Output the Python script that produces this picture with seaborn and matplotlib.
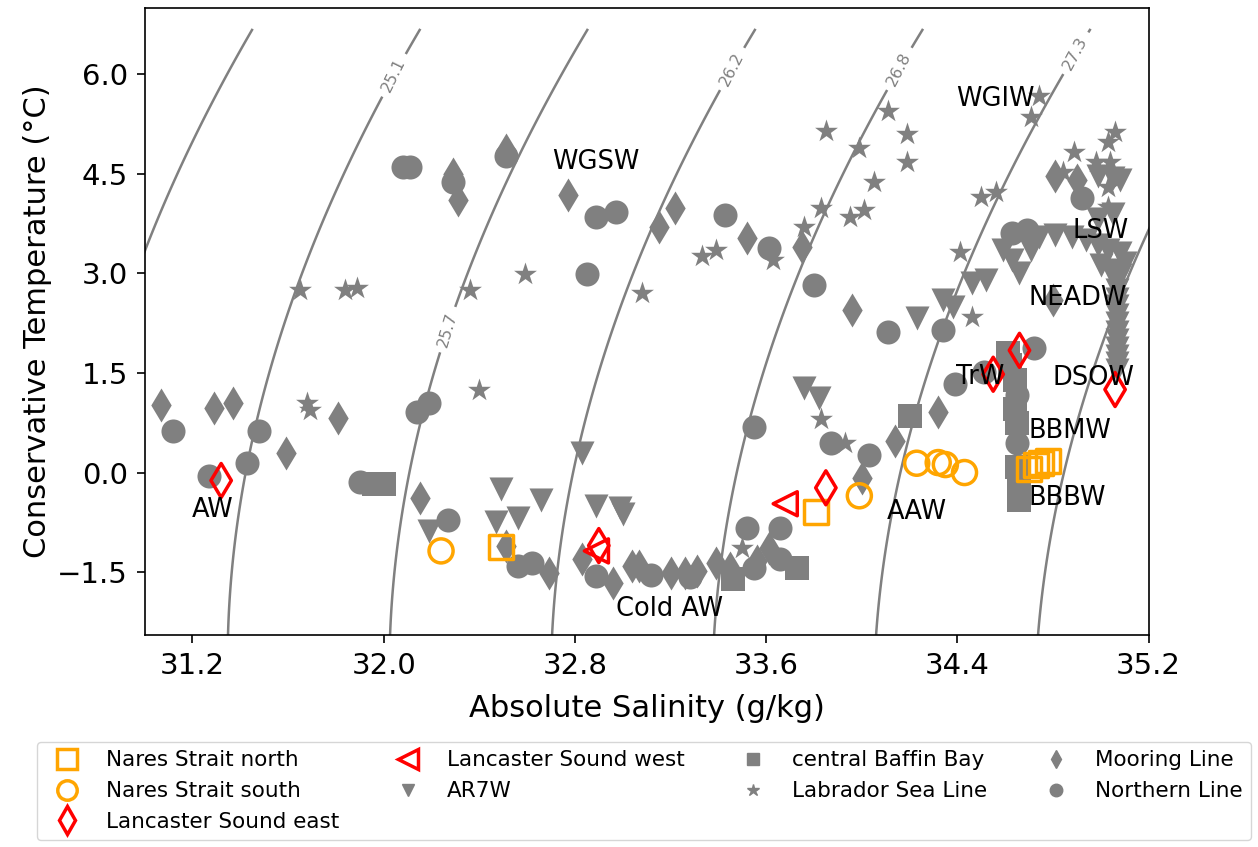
import numpy as np
import matplotlib
matplotlib.use("Agg")
import matplotlib.pyplot as plt
from matplotlib.lines import Line2D
import seaborn as sns

sns.set_style("ticks")
plt.rcParams["font.family"] = ["DejaVu Sans"]
plt.rcParams.update({"text.color": "black", "axes.labelcolor": "black",
                     "xtick.color": "black", "ytick.color": "black",
                     "axes.edgecolor": "black"})

# ---------------- water-mass samples: SA (g/kg), CT (degC) ----------------
nares_north_sa = [32.49, 33.81, 34.70, 34.73, 34.75, 34.78]
nares_north_ct = [-1.12, -0.60, 0.06, 0.11, 0.14, 0.17]

nares_south_sa = [32.24, 33.99, 34.23, 34.32, 34.35, 34.43]
nares_south_ct = [-1.18, -0.35, 0.14, 0.15, 0.12, 0.00]

lanc_east_sa = [31.32, 32.90, 33.85, 34.55, 34.66, 35.06]
lanc_east_ct = [-0.12, -1.10, -0.23, 1.48, 1.84, 1.25]

lanc_west_sa = [32.89, 33.68]
lanc_west_ct = [-1.18, -0.47]

ar7w_sa = [32.19, 32.47, 32.49, 32.56, 32.66, 32.83, 32.89, 32.99, 33.00,
           33.76, 33.82, 34.23, 34.34, 34.38, 34.46, 34.52,
           34.59, 34.63, 34.66, 34.71, 34.74,
           34.81, 34.88, 34.94, 34.99, 35.03,
           35.08, 35.10, 35.08, 35.00, 35.04, 34.99, 35.05, 35.08,
           34.99, 35.05,
           35.07, 35.07, 35.07, 35.07, 35.07, 35.07, 35.07, 35.07, 35.07,
           35.07, 35.07, 35.07]
ar7w_ct = [-0.88, -0.75, -0.25, -0.68, -0.42, 0.29, -0.50, -0.54, -0.62,
           1.27, 1.12, 2.33, 2.60, 2.49, 2.85, 2.90,
           3.35, 3.20, 3.00, 3.35, 3.55,
           3.58, 3.55, 3.50, 3.43, 3.35,
           3.30, 3.15, 2.98, 3.12, 3.05, 4.46, 4.44, 4.40,
           3.82, 3.90,
           2.88, 2.75, 2.62, 2.50, 2.37, 2.25, 2.12, 2.00, 1.87,
           1.75, 1.65, 1.55]

baffin_sa = [31.96, 32.00, 33.46, 33.73, 34.20, 34.61, 34.62, 34.64, 34.64,
             34.65, 34.65, 34.66, 34.66, 34.66]
baffin_ct = [-0.17, -0.17, -1.60, -1.44, 0.85, 1.80, 1.62, 1.39, 0.95,
             0.74, 0.08, -0.12, -0.27, -0.42]

labsea_sa = [31.65, 31.68, 31.69, 31.84, 31.89, 32.36, 32.40, 32.59, 33.08,
             33.33, 33.39, 33.63, 33.76, 33.83, 33.85, 33.99, 34.05, 33.83,
             33.95, 34.01, 34.11, 34.19, 34.19, 33.50, 33.93, 34.41, 34.46,
             34.50, 34.56, 34.71, 34.74, 34.89, 34.98, 35.03, 35.06, 35.04,
             35.03, 35.03, 34.84]
labsea_ct = [2.75, 1.04, 0.94, 2.75, 2.78, 2.75, 1.25, 2.99, 2.70,
             3.26, 3.35, 3.20, 3.69, 0.80, 5.14, 4.89, 4.38, 3.99,
             3.85, 3.96, 5.44, 5.09, 4.68, -1.13, 0.44, 3.32, 2.34,
             4.15, 4.23, 5.36, 5.67, 4.83, 4.67, 4.97, 5.12, 4.68,
             4.30, 4.00, 4.52]

mooring_sa = [31.07, 31.29, 31.37, 31.59, 31.81, 32.15, 32.29, 32.31, 32.51,
              32.77, 33.15, 33.22, 33.52, 33.75, 33.96, 32.51, 32.69, 32.83,
              32.96, 33.04, 33.07, 33.20, 33.26, 33.31, 33.39, 33.45, 33.56,
              33.61, 34.32, 34.14, 34.00, 34.80, 34.81, 34.90]
mooring_ct = [1.01, 0.97, 1.04, 0.30, 0.82, -0.39, 4.50, 4.11, 4.86,
              4.18, 3.69, 3.99, 3.53, 3.40, 2.45, -1.10, -1.51, -1.30,
              -1.66, -1.41, -1.40, -1.51, -1.51, -1.48, -1.36, -1.43, -1.33,
              -1.13, 0.91, 0.48, -0.08, 2.60, 4.46, 4.41]

northern_sa = [31.12, 31.27, 31.43, 31.48, 31.90, 32.14, 32.19, 32.27, 32.08,
               32.11, 32.29, 32.51, 32.89, 32.97, 32.85, 33.43, 33.61, 33.80,
               33.55, 34.11, 34.34, 34.39, 34.51, 34.72, 34.92, 34.63, 34.69,
               34.65, 34.65, 34.65, 33.87, 34.03, 33.52, 33.66, 32.56, 32.62,
               32.89, 33.12, 33.28, 33.55, 33.66]
northern_ct = [0.63, -0.05, 0.15, 0.63, -0.15, 0.91, 1.04, -0.71, 4.60,
               4.60, 4.38, 4.76, 3.84, 3.93, 2.99, 3.88, 3.38, 2.82,
               0.68, 2.11, 2.14, 1.34, 1.51, 1.87, 4.14, 3.61, 3.65,
               1.16, 0.44, 0.05, 0.44, 0.26, -0.83, -0.83, -1.40, -1.36,
               -1.56, -1.55, -1.58, -1.44, -1.30]

# isopycnal levels (sigma0, kg/m3) and where their labels sit
sigma_levels = [24.55, 25.10, 25.65, 26.20, 26.75, 27.30, 27.85]
label_sa = [32.05, 32.28, 33.48, 34.18, 34.95]
label_ct = [5.97, 2.14, 6.04, 6.04, 6.22]

water_masses = ["AW", "WGSW", "Cold AW", "WGIW", "LSW", "NEADW", "TrW",
                "DSOW", "BBMW", "BBBW", "AAW"]
wm_sa = [31.285, 32.886, 33.195, 34.56, 35.00, 34.905, 34.497, 34.97, 34.87,
         34.86, 34.23]
wm_ct = [-0.57, 4.67, -2.05, 5.62, 3.63, 2.63, 1.435, 1.42, 0.63, -0.38,
         -0.60]


def sigma0(sa, ct):
    """Surface potential density anomaly from the one-atmosphere EOS-80."""
    s = np.asarray(sa) * 35.0 / 35.16504
    t = np.asarray(ct)
    rho_w = (999.842594 + 6.793952e-2 * t - 9.095290e-3 * t**2
             + 1.001685e-4 * t**3 - 1.120083e-6 * t**4 + 6.536332e-9 * t**5)
    b = (8.24493e-1 - 4.0899e-3 * t + 7.6438e-5 * t**2
         - 8.2467e-7 * t**3 + 5.3875e-9 * t**4)
    c = -5.72466e-3 + 1.0227e-4 * t - 1.6546e-6 * t**2
    rho = rho_w + b * s + c * s**1.5 + 4.8314e-4 * s**2
    return rho - 1000.0


fig, ax = plt.subplots(figsize=(12.58, 8.47), dpi=100)
fig.subplots_adjust(left=0.115, right=0.913, top=0.991, bottom=0.25)

# isopycnals
sa_grid = np.linspace(30.8, 35.5, 400)
ct_grid = np.linspace(-2.75, 6.68, 400)
SAg, CTg = np.meshgrid(sa_grid, ct_grid)
cs = ax.contour(SAg, CTg, sigma0(SAg, CTg), levels=sigma_levels,
                colors="grey", linewidths=1.8, zorder=1)
ax.clabel(cs, fontsize=11.5, inline=True, inline_spacing=6,
          fmt=lambda v: f"{v + 1e-6:.1f}",
          manual=list(zip(label_sa, label_ct)))

S = 300
grey = "grey"
filled = [
    (baffin_sa, baffin_ct, "s", "central Baffin Bay"),
    (mooring_sa, mooring_ct, "d", "Mooring Line"),
    (labsea_sa, labsea_ct, "*", "Labrador Sea Line"),
    (ar7w_sa, ar7w_ct, "v", "AR7W"),
    (northern_sa, northern_ct, "o", "Northern Line"),
]
for xs, ys, mk, lab in filled:
    sns.scatterplot(x=xs, y=ys, marker=mk, s=S, color=grey,
                    edgecolor=grey, linewidth=0, ax=ax, zorder=2)

hollow = [
    (nares_north_sa, nares_north_ct, "s", "orange", "Nares Strait north"),
    (nares_south_sa, nares_south_ct, "o", "orange", "Nares Strait south"),
    (lanc_east_sa, lanc_east_ct, "d", "red", "Lancaster Sound east"),
    (lanc_west_sa, lanc_west_ct, "<", "red", "Lancaster Sound west"),
]
for xs, ys, mk, col, lab in hollow:
    sns.scatterplot(x=xs, y=ys, marker=mk, s=S, color=col,
                    facecolor="none", edgecolor=col, linewidth=2.5,
                    ax=ax, zorder=3)

for name, x, y in zip(water_masses, wm_sa, wm_ct):
    ax.text(x, y, name, fontsize=18.5, ha="center", va="center", zorder=4)

ax.set_xlim(31.0, 35.2)
ax.set_ylim(-2.45, 7.0)
ax.set_xticks([31.2, 32.0, 32.8, 33.6, 34.4, 35.2])
ax.set_yticks([-1.5, 0.0, 1.5, 3.0, 4.5, 6.0])
ax.xaxis.set_major_formatter(matplotlib.ticker.FormatStrFormatter("%.1f"))
ax.yaxis.set_major_formatter(matplotlib.ticker.FuncFormatter(
    lambda v, p: f"{v:.1f}".replace("-", "\u2212")))
ax.tick_params(labelsize=21, length=6, width=1.2, pad=6)
for sp in ax.spines.values():
    sp.set_linewidth(1.2)
ax.set_xlabel("Absolute Salinity (g/kg)", fontsize=22, labelpad=10)
ax.set_ylabel("Conservative Temperature (\u00b0C)", fontsize=22)

handles = [
    Line2D([], [], ls="none", marker="s", ms=14, mfc="none", mec="orange", mew=2.5),
    Line2D([], [], ls="none", marker="o", ms=14, mfc="none", mec="orange", mew=2.5),
    Line2D([], [], ls="none", marker="d", ms=14, mfc="none", mec="red", mew=2.5),
    Line2D([], [], ls="none", marker="<", ms=14, mfc="none", mec="red", mew=2.5),
    Line2D([], [], ls="none", marker="v", ms=9, color=grey),
    Line2D([], [], ls="none", marker="s", ms=9, color=grey),
    Line2D([], [], ls="none", marker="*", ms=9, color=grey),
    Line2D([], [], ls="none", marker="d", ms=9, color=grey),
    Line2D([], [], ls="none", marker="o", ms=9, color=grey),
]
labels = ["Nares Strait north", "Nares Strait south", "Lancaster Sound east",
          "Lancaster Sound west", "AR7W", "central Baffin Bay",
          "Labrador Sea Line", "Mooring Line", "Northern Line"]
fig.legend(handles, labels, loc="upper center", bbox_to_anchor=(0.512, 0.137),
           ncol=4, fontsize=15.5, columnspacing=2.2, handletextpad=0.8,
           frameon=True)

fig.savefig("out.png", dpi=100)
